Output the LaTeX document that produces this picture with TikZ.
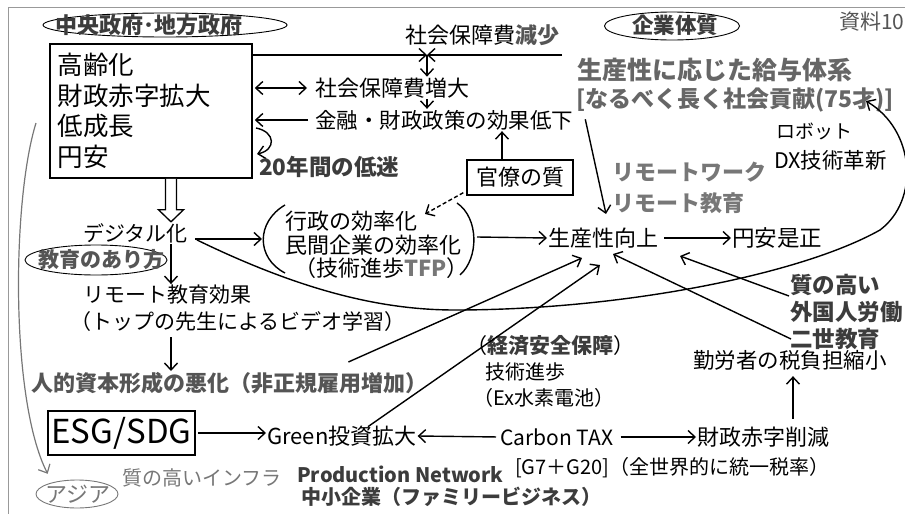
\documentclass[tikz,border=0pt]{standalone}
\usepackage{fontspec}
\setmainfont{Noto Sans CJK JP}
\usetikzlibrary{arrows.meta,shapes.geometric}
\definecolor{gA}{HTML}{3C3C3C}
\definecolor{gB}{HTML}{555555}
\definecolor{gC}{HTML}{666666}
\definecolor{gD}{HTML}{777777}
\definecolor{frm}{HTML}{999999}
\newcommand\fz[1]{\fontsize{#1}{#1}\selectfont}
\begin{document}
\begin{tikzpicture}[x=1pt,y=-1pt,
  t/.style={inner sep=1pt, anchor=west, font=\fz{21.5}},
  arr/.style={line width=1.4pt, -{Straight Barb[length=7pt,width=13pt,line width=1.4pt]}},
  darr/.style={line width=1.4pt, {Straight Barb[length=7pt,width=13pt,line width=1.4pt]}-{Straight Barb[length=7pt,width=13pt,line width=1.4pt]}},
  ell/.style={ellipse, draw, line width=0.9pt, inner sep=0pt}]
\useasboundingbox (0,0) rectangle (905,514);
\draw[frm, line width=1.6pt] (8.5,514) -- (8.5,7.5) -- (905,7.5);

% ---- top left
\node[ell, minimum width=244pt, minimum height=24pt] (govE) at (165,25) {};
\node[t, font=\fz{22}\bfseries, text=gA] (govt) at (54,25) {中央政府･地方政府};
\node[draw, line width=1.8pt, anchor=north west, minimum width=202pt, minimum height=134pt,
      align=left, text width=186pt, inner xsep=8pt, font=\fontsize{25.5}{30.5}\selectfont] (box1) at (49,43)
      {高齢化\\財政赤字拡大\\低成長\\円安};

\coordinate (J) at (427,55);
\coordinate (jr) at (562,55);
\coordinate (vx) at (171,0);
\node[t, font=\fz{22}] (dec) at (404,35) {社会保障費{\bfseries\color{gB}減少}};
\draw[arr] (box1.east |- J) -- (J);
\draw[arr] (jr) -- (J);
\node[t, font=\fz{22}] (inc) at (314,88) {社会保障費増大};
\node[t, font=\fz{21.5}] (pol) at (314,120) {金融・財政政策の効果低下};
\draw[arr] (J) -- (J |- inc.north);
\draw[arr] (inc.south -| J) -- (pol.north -| J);
\draw[darr, shorten <=2pt, shorten >=7pt] (box1.east |- inc.west) -- (inc.west);
\draw[arr, shorten <=6pt, shorten >=2pt] (pol.west) -- (box1.east |- pol.west);
\coordinate (l1) at (256,128);
\coordinate (l2) at (257,154);
\draw[arr] (l1) .. controls (276,132) and (276,150) .. (l2);
\node[t, font=\fz{22.5}\bfseries, text=gA] (low20) at (258,167) {20年間の低迷};

\node[draw, line width=1.4pt, minimum width=106pt, minimum height=35pt, font=\fz{22}] (kan) at (520,177.5) {官僚の質};
\draw[arr] ([xshift=-18pt]kan.north) -- ([xshift=-18pt]kan.north |- pol.south);

% ---- efficiency group
\node[t, font=\fz{22}] (e1) at (284,221) {行政の効率化};
\node[t, font=\fz{22}] (e2) at (284,245) {民間企業の効率化};
\node[t, font=\fz{22}] (e3) at (293,268) {（技術進歩{\bfseries\color{gD}TFP}）};
\draw[line width=1.4pt] (285,205) .. controls (256,222) and (256,258) .. (285,273);
\draw[line width=1.4pt] (457,203) .. controls (479,218) and (479,258) .. (460,275);
\coordinate (gL) at (262,239);
\coordinate (gR) at (477,237);
\coordinate (dT) at (425,214);
\draw[arr, dash pattern=on 4pt off 2.5pt] ([xshift=-3pt,yshift=3pt]kan.south west) -- (dT);

% ---- digital
\draw[line width=1.3pt, fill=white] ([xshift=-5.5pt]box1.south -| vx) -- ++(0,31) -- ++(-7,0) -- ++(12.5,12) -- ++(12.5,-12) -- ++(-7,0) -- ++(0,-31);
\node[t, font=\fz{21}] (dig) at (82,233) {デジタル化};
\draw[arr, shorten <=6pt] ([yshift=-6pt]dig.east) -- (gL);
\node[ell, minimum width=142pt, minimum height=30pt] (eduE) at (96,260) {};
\node[font=\fz{21}\bfseries, text=gB, inner sep=0pt] (edu) at (101,260) {教育のあり方};
\node[t, font=\fz{21}] (remote) at (82,295) {リモート教育効果};
\node[t, font=\fz{21}] (video) at (69,322) {（トップの先生によるビデオ学習）};
\node[t, font=\fz{22}\bfseries, text=gB] (hum) at (30,383) {人的資本形成の悪化（非正規雇用増加）};
\draw[arr] (vx |- dig.south) -- (vx |- remote.north);
\draw[arr, shorten <=4pt] (vx |- video.south) -- (vx |- hum.north);

% ---- productivity
\node[t, font=\fz{22}] (prod) at (547,238) {生産性向上};
\node[t, font=\fz{22.5}] (yen) at (731,238) {円安是正};
\draw[arr] (gR) -- (prod.west);
\draw[arr, shorten <=5pt] (prod.east) -- (yen.west);
\coordinate (pA) at (582,258);
\coordinate (pB) at (600,265);
\coordinate (pC) at (613,254);
\coordinate (pD) at (680,256);
\coordinate (pT) at (606,214);

% ---- right top
\node[ell, minimum width=135pt, minimum height=28pt] (kE) at (672,26) {};
\node[font=\fz{21.5}\bfseries, text=gA, inner sep=0pt] (kigyo) at (675,25) {企業体質};
\node[t, font=\fz{21}, text=gB] (siryo) at (838,22) {資料10};
\node[t, font=\fz{25}\bfseries, text=gC] (pay1) at (576,70) {生産性に応じた給与体系};
\node[t, font=\fz{23}\bfseries, text=gC] (pay2) at (575,100) {[なるべく長く社会貢献(75才)]};
\draw[arr, shorten <=6pt] ([xshift=9pt]pay2.south west) -- (pT);
\node[t, font=\fz{19}] (robot) at (775,131) {ロボット};
\node[t, font=\fz{21.5}] (dx) at (773,160) {DX技術革新};
\node[t, font=\fz{22}\bfseries, text=gD] (rw) at (611,172) {リモートワーク};
\node[t, font=\fz{22}\bfseries, text=gD] (re) at (611,203) {リモート教育};

\node[t, font=\fz{22.5}\bfseries, text=gA] (q1) at (789,285) {質の高い};
\node[t, font=\fz{22.5}\bfseries, text=gA] (q2) at (789,312) {外国人労働};
\node[t, font=\fz{22.5}\bfseries, text=gA] (q3) at (789,339) {二世教育};
\draw[arr] ([yshift=-11pt]q1.west) -- (pD);
\draw[arr] ([xshift=2pt]q3.west) -- (pC);

% big curve
\draw[arr] ([xshift=8pt,yshift=4pt]dig.south east) .. controls (300,290) and (380,310) .. (455,310)
   .. controls (620,310) and (800,275) .. (880,230) .. controls (920,200) and (915,130) .. (866,101);

% ---- lower
\node[t, font=\fz{21}] (econ) at (465,346) {（{\bfseries\color{gA}経済安全保障}）};
\node[t, font=\fz{20}] (tech) at (484,372) {技術進歩};
\node[t, font=\fz{20}] (ex) at (472,398) {（Ex水素電池）};
\node[t, font=\fz{21.5}] (tax) at (692,360) {勤労者の税負担縮小};
\coordinate (tx) at (793,0);

\node[draw, line width=1.8pt, minimum width=147pt, minimum height=44pt, font=\fz{33}] (esg) at (121.5,433) {ESG/SDG};
\node[t, font=\fz{22}] (green) at (266,436) {Green投資拡大};
\node[t, font=\fz{21}] (carbon) at (499,437) {Carbon TAX};
\node[t, font=\fz{22}] (cut) at (696,437) {財政赤字削減};
\draw[arr, shorten <=2pt] (esg.east) -- (esg.east -| green.west);
\draw[arr, shorten <=3pt] (carbon.west) -- (green.east);
\draw[arr, shorten <=6pt] (carbon.east) -- (cut.west);
\draw[arr, shorten <=7pt, shorten >=5pt] (tx |- cut.north) -- (tx |- tax.south);
\node[t, font=\fz{20}] (g7) at (514,468) {[G7＋G20]（全世界的に統一税率）};

\draw[arr] ([xshift=-80pt,yshift=9pt]hum.north east) -- (pA);
\draw[arr] ([xshift=102pt,yshift=-2pt]green.north west) -- (pB);

% ---- bottom
\node[t, font=\fz{20}\bfseries, text=gA] (pn) at (296,474) {Production Network};
\node[t, font=\fz{20}\bfseries, text=gA] (sme) at (300,497) {中小企業（ファミリービジネス）};
\node[t, font=\fz{20}, text=gD] (infra) at (121,478) {質の高いインフラ};
\node[ell, draw=gD, minimum width=82pt, minimum height=28pt] (asiaE) at (77,494) {};
\node[font=\fz{22}, text=gD, inner sep=0pt] (asia) at (78,494) {アジア};
\coordinate (ga) at (36,123);
\draw[gD, line width=1.2pt, -{Straight Barb[length=7pt,width=13pt,line width=1.2pt]}] (ga) .. controls (12,200) and (10,400) .. ([yshift=10pt]asiaE.north west);
\end{tikzpicture}
\end{document}
